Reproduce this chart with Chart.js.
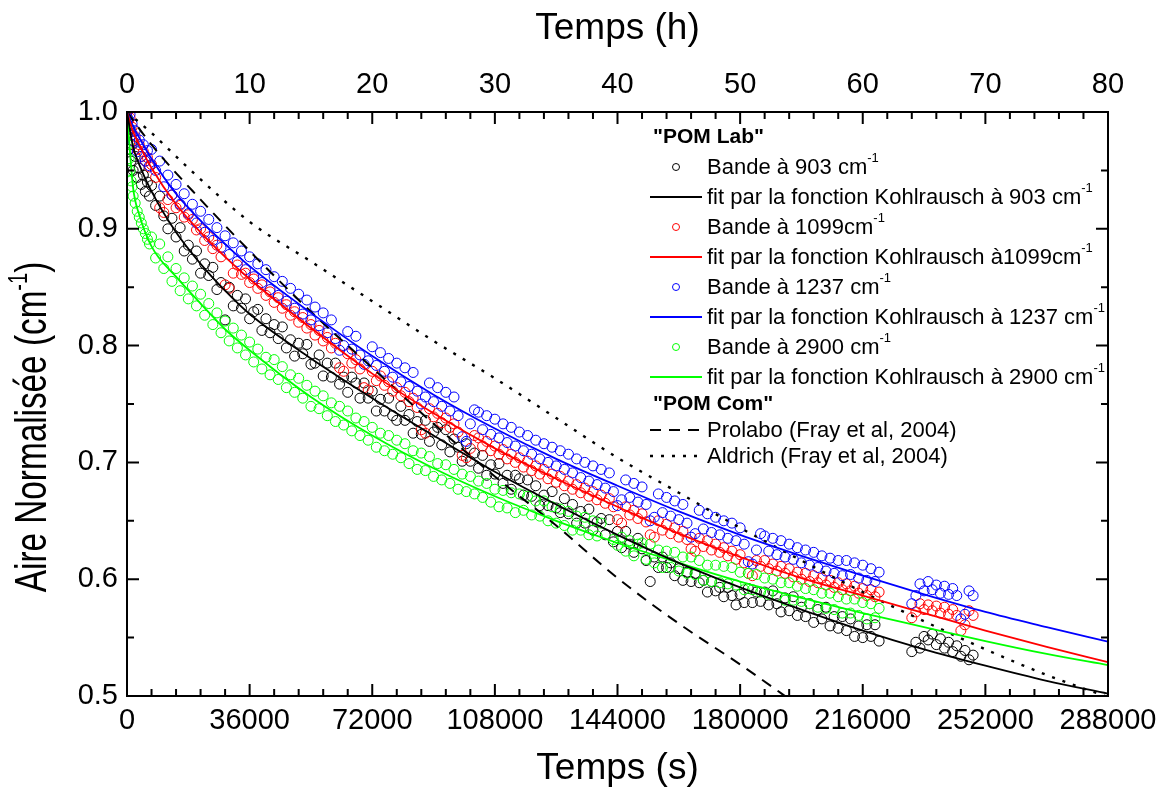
<!DOCTYPE html>
<html>
<head>
<meta charset="utf-8">
<script src="https://cdn.jsdelivr.net/npm/chart.js@4.4.1/dist/chart.umd.min.js"></script>
<style>
  html, body { margin: 0; padding: 0; background: #fff; }
</style>
</head>
<body>
<canvas id="chart" width="1165" height="789"></canvas>
<script>
// measurement times (s), shared by the four IR bands
const times = [
  0, 300, 600, 900, 1200, 1500, 1800, 2400, 3000, 3600, 4200, 4800, 5400, 6000, 6600,
  7200, 8400, 9600, 10800, 12000, 13200, 14400, 15600, 16800, 18000,
  19200, 20400, 21600, 22800, 24000, 25200, 26400, 27600, 28800, 30000,
  31200, 32400, 33600, 34800, 36000, 37200, 38400, 39600, 40800, 42000,
  43200, 44400, 45600, 46800, 48000, 49200, 50400, 51600, 52800, 54000,
  55200, 56400, 57600, 58800, 60000, 61200, 62400, 63600, 64800, 66000,
  67200, 68400, 69600, 70800, 72000, 73200, 74400, 75600, 76800, 78000,
  79200, 80400, 81600, 82800, 84000, 85200, 86400, 87600, 88800, 90000,
  91200, 92400, 93600, 94800, 96000, 97200, 98400, 99600, 100800, 102000,
  103200, 104400, 105600, 106800, 108000, 109200, 110400, 111600, 112800, 114000,
  115200, 116400, 117600, 118800, 120000, 121200, 122400, 123600, 124800, 126000,
  127200, 128400, 129600, 130800, 132000, 133200, 134400, 135600, 136800, 138000,
  139200, 140400, 141600, 142800, 144000, 145200, 146400, 147600, 148800, 150000,
  151200, 152400, 153600, 154800, 156000, 157200, 158400, 159600, 160800, 162000,
  163200, 164400, 165600, 166800, 168000, 169200, 170400, 171600, 172800, 174000,
  175200, 176400, 177600, 178800, 180000, 181200, 182400, 183600, 184800, 186000,
  187200, 188400, 189600, 190800, 192000, 193200, 194400, 195600, 196800, 198000,
  199200, 200400, 201600, 202800, 204000, 205200, 206400, 207600, 208800, 210000,
  211200, 212400, 213600, 214800, 216000, 217200, 218400, 219600, 220800,
  230400, 231600, 232800, 234000, 235200, 236400, 237600, 238800,
  240000, 241200, 242400, 243600, 244800, 246000, 247200, 248400
];

const band903 = [
  0.996, 0.982, 0.968, 0.985, 0.958, 0.972, 0.950, 0.962, 0.944, 0.952, 0.938, 0.946, 0.932, 0.940, 0.928,
  0.937, 0.920, 0.928, 0.911, 0.900, 0.909, 0.893, 0.901, 0.881, 0.886,
  0.874, 0.881, 0.862, 0.870, 0.860, 0.867, 0.848, 0.854, 0.822, 0.850,
  0.834, 0.843, 0.832, 0.840, 0.823, 0.829, 0.831, 0.813, 0.823, 0.811,
  0.818, 0.806, 0.816, 0.798, 0.805, 0.791, 0.802, 0.793, 0.801, 0.784,
  0.785, 0.792, 0.774, 0.785, 0.773, 0.785, 0.767, 0.773, 0.760, 0.773,
  0.768, 0.755, 0.768, 0.755, 0.761, 0.744, 0.754, 0.744, 0.755, 0.740,
  0.736, 0.748, 0.736, 0.741, 0.725, 0.735, 0.724, 0.736, 0.718, 0.726,
  0.730, 0.715, 0.728, 0.709, 0.720, 0.713, 0.701, 0.716, 0.701, 0.708,
  0.695, 0.706, 0.689, 0.698, 0.690, 0.699, 0.682, 0.689, 0.677, 0.689,
  0.686, 0.672, 0.685, 0.671, 0.680, 0.663, 0.672, 0.663, 0.675, 0.661,
  0.657, 0.669, 0.656, 0.664, 0.648, 0.658, 0.648, 0.660, 0.642, 0.649,
  0.652, 0.638, 0.651, 0.632, 0.641, 0.627, 0.641, 0.630, 0.623, 0.635,
  0.626, 0.616, 0.598, 0.619, 0.610, 0.619, 0.610, 0.614, 0.603, 0.609,
  0.599, 0.606, 0.598, 0.605, 0.597, 0.599, 0.589, 0.598, 0.590, 0.593,
  0.585, 0.593, 0.586, 0.578, 0.587, 0.580, 0.592, 0.580, 0.589, 0.581,
  0.589, 0.578, 0.590, 0.579, 0.572, 0.584, 0.573, 0.585, 0.569, 0.576,
  0.568, 0.579, 0.563, 0.574, 0.566, 0.576, 0.560, 0.568, 0.558, 0.568,
  0.556, 0.566, 0.551, 0.560, 0.550, 0.561, 0.551, 0.561, 0.547,
  0.538, 0.546, 0.541, 0.551, 0.548, 0.553, 0.544, 0.549,
  0.541, 0.546, 0.538, 0.543, 0.534, 0.539, 0.531, 0.535
];

const band1099 = [
  1.000, 0.992, 0.985, 0.995, 0.980, 0.987, 0.975, 0.979, 0.968, 0.972, 0.962, 0.966, 0.958, 0.961, 0.953,
  0.955, 0.944, 0.918, 0.914, 0.925, 0.929, 0.918, 0.920, 0.910, 0.912,
  0.908, 0.899, 0.900, 0.890, 0.893, 0.883, 0.886, 0.876, 0.852, 0.849,
  0.862, 0.869, 0.861, 0.862, 0.854, 0.857, 0.849, 0.852, 0.843, 0.846,
  0.837, 0.841, 0.832, 0.835, 0.826, 0.829, 0.820, 0.824, 0.815, 0.818,
  0.809, 0.813, 0.804, 0.807, 0.798, 0.802, 0.781, 0.778, 0.793, 0.785,
  0.788, 0.780, 0.764, 0.762, 0.778, 0.770, 0.774, 0.766, 0.769, 0.761,
  0.764, 0.757, 0.760, 0.752, 0.755, 0.747, 0.728, 0.725, 0.746, 0.739,
  0.742, 0.734, 0.738, 0.730, 0.733, 0.726, 0.706, 0.704, 0.712, 0.723,
  0.721, 0.714, 0.718, 0.710, 0.714, 0.707, 0.711, 0.703, 0.707, 0.700,
  0.704, 0.696, 0.701, 0.693, 0.697, 0.690, 0.694, 0.686, 0.690, 0.683,
  0.688, 0.680, 0.684, 0.677, 0.681, 0.674, 0.678, 0.671, 0.675, 0.668,
  0.672, 0.665, 0.669, 0.662, 0.651, 0.648, 0.662, 0.655, 0.659, 0.652,
  0.656, 0.649, 0.638, 0.636, 0.650, 0.642, 0.647, 0.639, 0.644, 0.636,
  0.641, 0.634, 0.626, 0.624, 0.635, 0.628, 0.633, 0.625, 0.630, 0.623,
  0.627, 0.620, 0.624, 0.617, 0.621, 0.614, 0.605, 0.603, 0.616, 0.611,
  0.616, 0.609, 0.613, 0.607, 0.611, 0.605, 0.609, 0.602, 0.606, 0.600,
  0.605, 0.598, 0.603, 0.597, 0.601, 0.595, 0.599, 0.593, 0.597, 0.591,
  0.596, 0.590, 0.594, 0.588, 0.592, 0.586, 0.591, 0.585, 0.589,
  0.567, 0.572, 0.579, 0.574, 0.578, 0.573, 0.577, 0.571,
  0.576, 0.570, 0.574, 0.569, 0.556, 0.561, 0.573, 0.569
];

const band1237 = [
  1.000, 0.994, 0.986, 0.998, 0.980, 0.990, 0.975, 0.984, 0.966, 0.976, 0.962, 0.972, 0.958, 0.967, 0.954,
  0.968, 0.950, 0.958, 0.936, 0.946, 0.929, 0.938, 0.921, 0.930, 0.913,
  0.921, 0.905, 0.915, 0.897, 0.908, 0.890, 0.901, 0.884, 0.894, 0.878,
  0.888, 0.872, 0.881, 0.865, 0.876, 0.859, 0.870, 0.854, 0.865, 0.848,
  0.859, 0.843, 0.855, 0.838, 0.849, 0.832, 0.844, 0.827, 0.839, 0.822,
  0.833, 0.817, 0.828, 0.811, 0.822, 0.806, 0.796, 0.800, 0.812, 0.797,
  0.808, 0.792, 0.784, 0.787, 0.799, 0.783, 0.794, 0.778, 0.789, 0.773,
  0.785, 0.769, 0.781, 0.765, 0.777, 0.761, 0.750, 0.756, 0.768, 0.752,
  0.764, 0.748, 0.760, 0.744, 0.756, 0.740, 0.722, 0.718, 0.733, 0.745,
  0.743, 0.728, 0.740, 0.724, 0.737, 0.721, 0.733, 0.717, 0.730, 0.714,
  0.726, 0.710, 0.723, 0.707, 0.719, 0.703, 0.716, 0.700, 0.713, 0.697,
  0.710, 0.694, 0.707, 0.691, 0.703, 0.687, 0.700, 0.684, 0.697, 0.681,
  0.694, 0.678, 0.691, 0.675, 0.663, 0.668, 0.685, 0.670, 0.682, 0.666,
  0.679, 0.664, 0.650, 0.653, 0.673, 0.657, 0.670, 0.654, 0.667, 0.651,
  0.664, 0.648, 0.636, 0.639, 0.659, 0.643, 0.656, 0.640, 0.653, 0.638,
  0.650, 0.635, 0.648, 0.633, 0.644, 0.630, 0.615, 0.613, 0.625, 0.639,
  0.637, 0.624, 0.635, 0.621, 0.633, 0.619, 0.630, 0.617, 0.627, 0.614,
  0.625, 0.612, 0.623, 0.610, 0.620, 0.607, 0.618, 0.605, 0.616, 0.603,
  0.616, 0.604, 0.614, 0.601, 0.612, 0.599, 0.609, 0.598, 0.606,
  0.579, 0.586, 0.596, 0.590, 0.598, 0.591, 0.595, 0.588,
  0.594, 0.587, 0.592, 0.586, 0.566, 0.570, 0.590, 0.586
];

const band2900 = [
  0.988, 0.972, 0.960, 0.950, 0.941, 0.936, 0.928, 0.922, 0.915, 0.910, 0.905, 0.900, 0.896, 0.891, 0.887,
  0.893, 0.875, 0.887, 0.866, 0.876, 0.855, 0.866, 0.847, 0.858, 0.840,
  0.851, 0.834, 0.844, 0.826, 0.836, 0.818, 0.828, 0.811, 0.821, 0.804,
  0.815, 0.798, 0.809, 0.792, 0.803, 0.786, 0.797, 0.780, 0.790, 0.775,
  0.788, 0.771, 0.782, 0.764, 0.775, 0.760, 0.772, 0.755, 0.766, 0.748,
  0.761, 0.746, 0.757, 0.740, 0.751, 0.735, 0.748, 0.732, 0.744, 0.727,
  0.738, 0.723, 0.735, 0.719, 0.730, 0.713, 0.725, 0.710, 0.723, 0.707,
  0.719, 0.704, 0.716, 0.699, 0.710, 0.694, 0.708, 0.693, 0.705, 0.688,
  0.699, 0.685, 0.698, 0.682, 0.694, 0.677, 0.690, 0.675, 0.688, 0.673,
  0.684, 0.670, 0.682, 0.666, 0.677, 0.662, 0.676, 0.661, 0.674, 0.657,
  0.673, 0.659, 0.671, 0.655, 0.667, 0.654, 0.667, 0.650, 0.662, 0.648,
  0.660, 0.646, 0.658, 0.642, 0.654, 0.642, 0.653, 0.638, 0.650, 0.637,
  0.648, null, null, 0.634, 0.629, 0.636, 0.624, 0.633, 0.620, 0.630,
  0.631, 0.617, 0.630, 0.614, 0.625, 0.610, 0.624, 0.610, 0.623, 0.607,
  0.619, 0.605, 0.619, 0.604, 0.616, 0.599, 0.612, 0.598, 0.612, 0.597,
  0.611, 0.596, 0.610, 0.595, 0.606, 0.591, 0.605, 0.591, 0.604, 0.589,
  0.601, 0.587, 0.600, 0.586, 0.597, 0.582, 0.597, 0.582, 0.594, 0.581,
  0.592, 0.579, 0.591, 0.576, 0.588, 0.575, 0.588, 0.574, 0.585, 0.571,
  0.583, 0.571, 0.583, 0.569, 0.580, 0.566, 0.579, 0.567, 0.575,
  null, null, null, null, null, null, null, null,
  null, null, null, null, null, null, null, null
];

// Kohlrausch fits
const fitTimes = [0, 1800, 3600, 7200, 14400, 21600, 28800, 36000, 54000, 72000, 90000,
  108000, 126000, 144000, 162000, 180000, 198000, 216000, 234000, 252000, 270000, 288000];
const fit903 = [1.0, 0.970, 0.955, 0.932, 0.897, 0.870, 0.847, 0.827, 0.789, 0.755, 0.723,
  0.692, 0.664, 0.638, 0.614, 0.593, 0.574, 0.556, 0.540, 0.526, 0.513, 0.502];
const fit1099 = [1.0, 0.983, 0.972, 0.952, 0.921, 0.897, 0.876, 0.857, 0.815, 0.776, 0.742,
  0.712, 0.686, 0.662, 0.639, 0.619, 0.601, 0.586, 0.571, 0.556, 0.542, 0.529];
const fit1237 = [1.0, 0.988, 0.978, 0.960, 0.930, 0.907, 0.887, 0.868, 0.828, 0.791, 0.758,
  0.729, 0.703, 0.680, 0.658, 0.638, 0.620, 0.603, 0.587, 0.572, 0.559, 0.5465];
const fit2900 = [1.0, 0.935, 0.912, 0.885, 0.859, 0.836, 0.814, 0.796, 0.756, 0.723, 0.695,
  0.671, 0.650, 0.631, 0.614, 0.598, 0.584, 0.571, 0.559, 0.547, 0.536, 0.5265];

// commercial POM (Fray et al, 2004)
const prolaboTimes = [0, 7200, 21600, 36000, 54000, 72000, 90000, 108000, 126000, 144000, 162000, 180000, 198000];
const prolabo = [1.0, 0.972, 0.925, 0.881, 0.829, 0.781, 0.733, 0.688, 0.646, 0.601, 0.562, 0.527, 0.490];
const aldrichTimes = [0, 7200, 18000, 36000, 54000, 72000, 90000, 108000, 126000, 144000, 162000,
  180000, 198000, 216000, 234000, 252000, 270000, 288000];
const aldrich = [1.0, 0.982, 0.952, 0.906, 0.872, 0.838, 0.804, 0.772, 0.738, 0.704, 0.674,
  0.644, 0.616, 0.589, 0.564, 0.540, 0.518, 0.499];

// axis labels
const secTicks = [0, 36000, 72000, 108000, 144000, 180000, 216000, 252000, 288000];
const hourTicks = [0, 10, 20, 30, 40, 50, 60, 70, 80];
const yTicks = [0.5, 0.6, 0.7, 0.8, 0.9, 1.0];

const FONT = "'Liberation Sans', Arial, sans-serif";
Chart.defaults.font.family = FONT;
Chart.defaults.color = '#000';

const toPoints = (xs, ys) => xs.map((x, i) => ({ x: x, y: ys[i] })).filter(p => p.y !== null);

const bandSet = (label, ys, color, order) => ({
  label: label,
  data: toPoints(times, ys),
  showLine: false,
  borderColor: color,
  backgroundColor: 'rgba(0,0,0,0)',
  pointStyle: 'circle',
  pointRadius: 5,
  pointBorderWidth: 1,
  order: order
});

const curveSet = (label, xs, ys, color, dash, width) => ({
  label: label,
  data: toPoints(xs, ys),
  showLine: true,
  borderColor: color,
  backgroundColor: color,
  borderWidth: width,
  borderDash: dash,
  pointRadius: 0,
  cubicInterpolationMode: 'monotone',
  clip: 0,
  order: 0
});

const datasets = [
  bandSet('Bande à 903 cm^-1', band903, '#000000', 4),
  curveSet('fit par la fonction Kohlrausch à 903 cm^-1', fitTimes, fit903, '#000000', [], 1.8),
  bandSet('Bande à 1099cm^-1', band1099, '#ff0000', 3),
  curveSet('fit par la fonction Kohlrausch à1099cm^-1', fitTimes, fit1099, '#ff0000', [], 1.8),
  bandSet('Bande à 1237 cm^-1', band1237, '#0000ff', 2),
  curveSet('fit par la fonction Kohlrausch à 1237 cm^-1', fitTimes, fit1237, '#0000ff', [], 1.8),
  bandSet('Bande à 2900 cm^-1', band2900, '#00ff00', 1),
  curveSet('fit par la fonction Kohlrausch à 2900 cm^-1', fitTimes, fit2900, '#00ff00', [], 1.8),
  curveSet('Prolabo (Fray et al, 2004)', prolaboTimes, prolabo, '#000000', [11, 8], 2),
  curveSet('Aldrich (Fray et al, 2004)', aldrichTimes, aldrich, '#000000', [3, 8], 2.4)
];

const legendGroups = [
  { title: '"POM Lab"', before: 0 },
  { title: '"POM Com"', before: 8 }
];

// text with an optional superscript after '^'
function drawRich(ctx, text, x, y, size, weight) {
  const parts = text.split('^');
  ctx.font = (weight || '') + ' ' + size + 'px ' + FONT;
  ctx.fillText(parts[0], x, y);
  if (parts.length > 1) {
    const w = ctx.measureText(parts[0]).width;
    ctx.font = Math.round(size * 0.6) + 'px ' + FONT;
    ctx.fillText(parts[1], x + w, y - size * 0.42);
  }
}

const framePlugin = {
  id: 'frame',
  afterDraw(chart) {
    const ctx = chart.ctx;
    const a = chart.chartArea;
    const sx = chart.scales.x;
    const sy = chart.scales.y;
    ctx.save();
    ctx.strokeStyle = '#000';
    ctx.lineWidth = 2;
    ctx.strokeRect(a.left, a.top, a.right - a.left, a.bottom - a.top);
    ctx.beginPath();
    for (let i = 0; i <= 40; i++) {
      const px = sx.getPixelForValue(i * 7200);
      const len = i % 5 === 0 ? 12 : 7;
      ctx.moveTo(px, a.bottom); ctx.lineTo(px, a.bottom - len);
      ctx.moveTo(px, a.top); ctx.lineTo(px, a.top + len);
    }
    for (let i = 0; i <= 10; i++) {
      const py = sy.getPixelForValue(0.5 + i * 0.05);
      const len = i % 2 === 0 ? 12 : 7;
      ctx.moveTo(a.left, py); ctx.lineTo(a.left + len, py);
      ctx.moveTo(a.right, py); ctx.lineTo(a.right - len, py);
    }
    ctx.stroke();

    // y axis title
    ctx.fillStyle = '#000';
    ctx.save();
    ctx.translate(46, 427);
    ctx.rotate(-Math.PI / 2);
    ctx.scale(0.74, 1);
    ctx.textAlign = 'left';
    ctx.textBaseline = 'alphabetic';
    const parts = 'Aire Normalisée (cm^-1^)'.split('^');
    ctx.font = '45px ' + FONT;
    const w0 = ctx.measureText(parts[0]).width;
    const w2 = ctx.measureText(parts[2]).width;
    ctx.font = '27px ' + FONT;
    const w1 = ctx.measureText(parts[1]).width;
    const x = -(w0 + w1 + w2) / 2;
    ctx.font = '45px ' + FONT;
    ctx.fillText(parts[0], x, 0);
    ctx.fillText(parts[2], x + w0 + w1, 0);
    ctx.font = '27px ' + FONT;
    ctx.fillText(parts[1], x + w0, -19);
    ctx.restore();

    // legend
    const lx = a.left + 523;
    const rows = [];
    chart.data.datasets.forEach((ds, i) => {
      legendGroups.filter(g => g.before === i).forEach(g => rows.push({ heading: g.title }));
      rows.push({ ds: ds });
    });
    const rowY = [25, 55, 85, 115, 145, 175, 205, 235, 265, 292, 318, 344];
    ctx.textBaseline = 'middle';
    ctx.textAlign = 'left';
    rows.forEach((r, i) => {
      const y = a.top + rowY[i];
      ctx.fillStyle = '#000';
      if (r.heading) {
        drawRich(ctx, r.heading, lx + 3, y, 21, 'bold');
        return;
      }
      const ds = r.ds;
      ctx.strokeStyle = ds.borderColor;
      if (ds.showLine) {
        ctx.lineWidth = ds.borderWidth;
        ctx.setLineDash(ds.borderDash);
        ctx.beginPath();
        ctx.moveTo(lx, y); ctx.lineTo(lx + 52, y);
        ctx.stroke();
        ctx.setLineDash([]);
      } else {
        ctx.lineWidth = 1;
        ctx.beginPath();
        ctx.arc(lx + 26, y, 3.5, 0, Math.PI * 2);
        ctx.stroke();
      }
      ctx.fillStyle = '#000';
      drawRich(ctx, ds.label, lx + 57, y + 1, 22);
    });
    ctx.restore();
  }
};

new Chart(document.getElementById('chart'), {
  type: 'scatter',
  data: { datasets: datasets },
  options: {
    responsive: false,
    animation: false,
    devicePixelRatio: 1,
    layout: { padding: { left: 0, top: 0, right: 57, bottom: 0 } },
    plugins: { legend: { display: false }, tooltip: { enabled: false } },
    scales: {
      x: {
        type: 'linear', position: 'bottom', min: 0, max: 288000,
        afterBuildTicks: s => { s.ticks = secTicks.map(v => ({ value: v })); },
        ticks: { font: { size: 29 }, padding: 8, maxRotation: 0, autoSkip: false, callback: v => String(v) },
        grid: { display: false, drawTicks: false },
        border: { display: false },
        title: { display: true, text: 'Temps (s)', font: { size: 37, lineHeight: 1 }, padding: { top: 0, bottom: 2 } },
        afterFit: s => { s.height = 93; }
      },
      xh: {
        type: 'linear', position: 'top', min: 0, max: 80,
        afterBuildTicks: s => { s.ticks = hourTicks.map(v => ({ value: v })); },
        ticks: { font: { size: 29 }, padding: 10, maxRotation: 0, autoSkip: false, callback: v => String(v) },
        grid: { display: false, drawTicks: false },
        border: { display: false },
        title: { display: true, text: 'Temps (h)', font: { size: 37, lineHeight: 1 }, padding: { top: 10, bottom: 0 } },
        afterFit: s => { s.height = 112; }
      },
      y: {
        type: 'linear', position: 'left', min: 0.5, max: 1.0,
        afterBuildTicks: s => { s.ticks = yTicks.map(v => ({ value: v })); },
        ticks: { font: { size: 29 }, padding: 9, callback: v => v.toFixed(1) },
        grid: { display: false, drawTicks: false },
        border: { display: false },
        afterFit: s => { s.width = 127; }
      }
    }
  },
  plugins: [framePlugin]
});
</script>
</body>
</html>
